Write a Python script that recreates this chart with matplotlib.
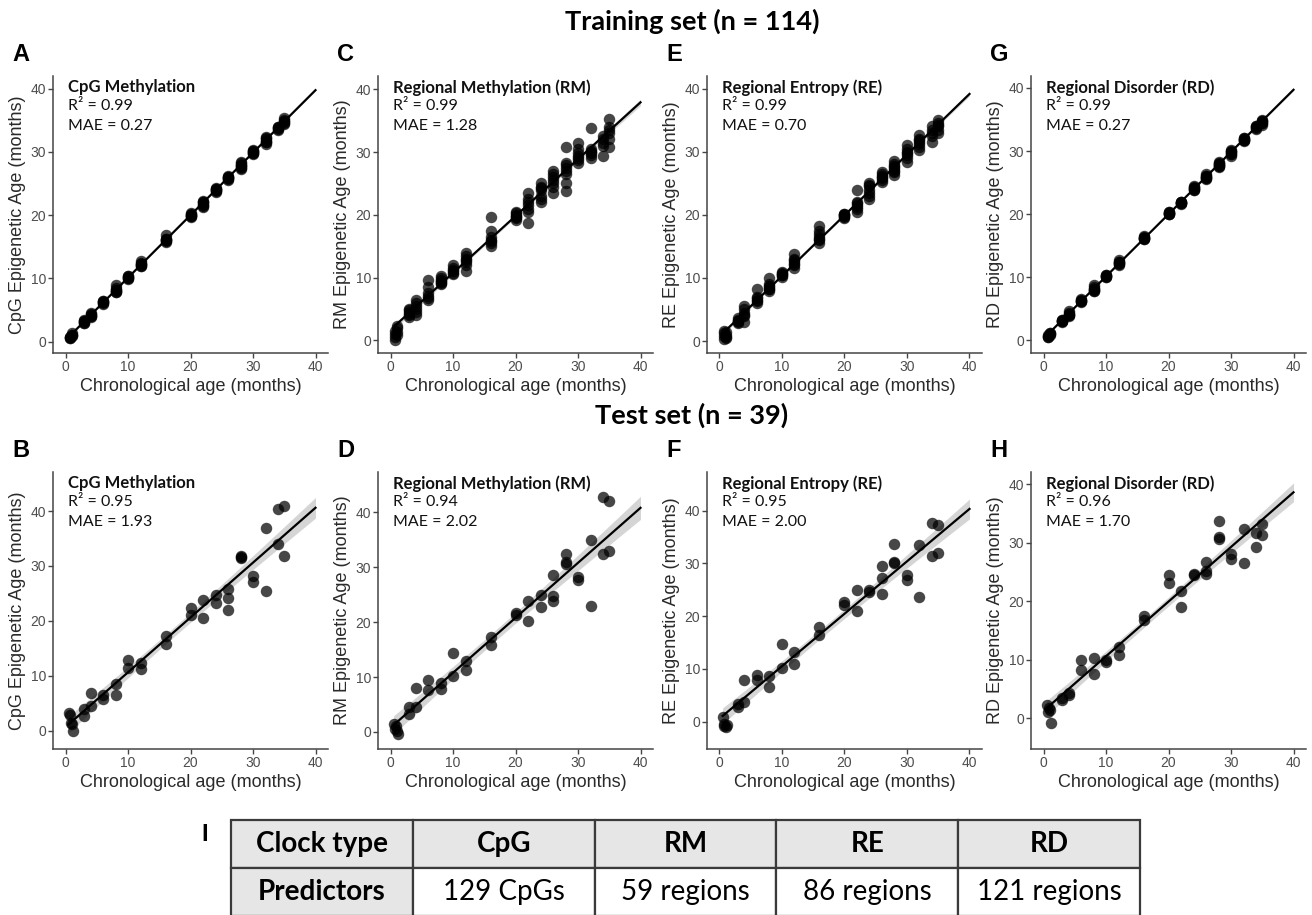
import numpy as np
import matplotlib
matplotlib.use("Agg")
import matplotlib.pyplot as plt

# ------------------------------------------------------------------ data
# Training set (n = 114): chronological age (months)
train_age = [
    0.7, 0.7, 0.7, 0.7, 1, 1, 1, 1,
    3, 3, 3, 3, 3, 3, 4, 4, 4, 4, 4, 4,
    6, 6, 6, 6, 6, 6, 8, 8, 8, 8, 8, 8, 8,
    10, 10, 10, 10, 10, 10, 12, 12, 12, 12, 12, 12, 12,
    16, 16, 16, 16, 16, 16, 16, 20, 20, 20, 20, 20, 20, 20,
    22, 22, 22, 22, 22, 22, 22, 24, 24, 24, 24, 24, 24, 24,
    26, 26, 26, 26, 26, 26, 26, 28, 28, 28, 28, 28, 28, 28, 28,
    30, 30, 30, 30, 30, 30, 30, 32, 32, 32, 32, 32, 32, 32,
    34, 34, 34, 34, 34, 35, 35, 35, 35, 35, 35]

train_cpg = [
    0.5, 0.7, 0.8, 0.6, 0.9, 1.1, 1.3, 1.0,
    3.0, 3.2, 3.4, 3.1, 3.3, 3.0, 4.0, 4.2, 4.5, 3.9, 4.3, 4.1,
    6.1, 6.3, 6.5, 6.2, 6.4, 6.0, 7.8, 8.1, 8.4, 8.9, 8.0, 8.2, 7.9,
    10.0, 10.2, 10.4, 10.1, 10.3, 9.9, 12.0, 12.2, 12.5, 12.7, 12.1, 12.3, 11.9,
    15.8, 16.0, 16.3, 16.8, 16.1, 15.9, 16.2, 19.8, 20.0, 20.2, 19.9, 20.1, 20.3, 19.7,
    21.3, 21.6, 22.0, 22.3, 21.8, 21.5, 22.1, 23.8, 24.0, 24.3, 23.9, 24.1, 24.2, 23.7,
    25.6, 25.9, 26.2, 26.0, 25.8, 26.1, 25.7, 27.3, 27.6, 28.0, 28.4, 27.8, 28.2, 27.5, 27.9,
    29.7, 30.0, 30.2, 29.9, 30.1, 29.8, 30.3, 31.3, 31.6, 32.0, 32.4, 31.8, 32.2, 31.5,
    33.4, 33.7, 34.0, 33.6, 33.9, 34.4, 34.7, 35.0, 35.3, 34.6, 34.9]

train_rm = [
    0.1, 0.5, 1.0, 1.5, 2.0, 2.3, 0.8, 1.3,
    4.0, 4.5, 5.0, 4.2, 3.8, 4.8, 4.0, 5.0, 6.0, 6.5, 4.5, 5.5,
    6.5, 7.0, 7.5, 8.5, 9.7, 6.8, 9.0, 9.5, 10.0, 9.3, 9.7, 10.2, 9.1,
    10.5, 11.0, 11.5, 12.0, 11.2, 10.8, 11.0, 12.0, 12.5, 13.0, 13.5, 14.0, 12.8,
    15.0, 15.5, 16.0, 16.5, 17.5, 19.7, 15.8, 19.2, 19.5, 20.0, 20.3, 19.8, 20.5, 19.6,
    18.7, 20.5, 21.0, 22.0, 22.5, 23.5, 21.5, 22.0, 23.0, 24.0, 24.5, 25.0, 22.5, 24.2,
    23.5, 24.5, 25.0, 25.5, 26.0, 27.0, 26.5, 23.8, 25.0, 26.5, 27.0, 28.0, 28.3, 30.8, 27.5,
    28.2, 28.8, 29.3, 29.8, 30.5, 31.5, 29.0, 29.0, 29.5, 30.0, 30.5, 33.8, 29.8, 30.2,
    29.3, 31.0, 31.5, 32.0, 32.5, 30.8, 32.0, 33.0, 34.0, 35.3, 33.5]

train_re = [
    0.3, 0.8, 1.2, 1.6, 0.5, 1.0, 1.4, 0.7,
    2.8, 3.2, 3.6, 3.0, 3.4, 3.1, 3.0, 4.0, 4.5, 5.0, 5.5, 4.2,
    6.0, 6.5, 7.0, 8.3, 6.3, 6.8, 8.0, 8.5, 9.0, 10.0, 8.3, 8.7, 8.2,
    10.2, 10.5, 10.8, 11.0, 10.4, 10.6, 11.5, 12.0, 12.5, 13.0, 13.8, 12.2, 12.8,
    15.5, 16.0, 16.5, 17.0, 17.5, 18.3, 16.2, 19.5, 19.8, 20.0, 20.2, 19.7, 20.1, 19.9,
    20.5, 21.0, 21.5, 22.0, 24.0, 21.2, 21.8, 22.5, 23.0, 24.0, 24.5, 25.0, 23.5, 24.8,
    25.2, 25.5, 26.0, 26.5, 26.8, 25.8, 26.2, 26.3, 27.0, 27.5, 28.0, 28.5, 27.2, 27.8, 26.8,
    28.3, 29.0, 29.5, 30.0, 30.5, 31.0, 29.8, 30.2, 30.8, 31.5, 32.0, 32.7, 31.2, 31.8,
    31.5, 32.5, 33.0, 33.5, 34.0, 33.0, 33.5, 34.0, 34.5, 35.0, 34.2]

train_rd = [
    0.5, 0.6, 0.8, 0.7, 0.9, 1.2, 1.0, 1.1,
    3.0, 3.1, 3.3, 2.9, 3.2, 3.0, 3.9, 4.2, 4.6, 4.0, 4.3, 4.1,
    6.2, 6.3, 6.5, 6.1, 6.4, 6.3, 7.8, 8.1, 8.4, 8.8, 8.0, 8.2, 7.9,
    10.0, 10.2, 10.4, 10.1, 10.3, 10.2, 12.0, 12.2, 12.5, 12.8, 12.1, 12.3, 12.4,
    16.0, 16.2, 16.4, 16.6, 16.1, 16.3, 16.2, 20.0, 20.2, 20.3, 20.1, 20.2, 20.4, 20.1,
    21.6, 21.8, 22.0, 21.9, 21.7, 21.8, 22.0, 23.8, 24.0, 24.4, 23.9, 24.1, 24.2, 24.3,
    25.5, 25.8, 26.3, 26.0, 25.7, 26.1, 25.9, 27.5, 27.8, 28.2, 28.0, 27.7, 28.1, 27.6, 27.9,
    29.3, 29.6, 30.1, 29.8, 29.9, 29.5, 30.0, 31.6, 31.8, 32.0, 31.7, 31.9, 31.8, 32.1,
    33.5, 33.8, 34.0, 33.6, 33.9, 34.2, 34.5, 35.0, 34.7, 34.4, 34.8]

# Test set (n = 39): chronological age (months)
test_age = [
    0.5, 0.7, 0.8, 1.0, 1.2,
    3, 3, 4, 4, 6, 6, 8, 8, 10, 10, 12, 12,
    16, 16, 20, 20, 22, 22, 24, 24,
    26, 26, 26, 28, 28, 28, 30, 30, 32, 32, 34, 34, 35, 35]

test_cpg = [
    3.3, 2.8, 1.5, 1.2, 0.0,
    2.7, 3.9, 6.8, 4.6, 5.8, 6.5, 8.6, 6.6, 12.9, 11.5, 12.4, 11.2,
    17.3, 15.8, 22.4, 21.0, 23.9, 20.5, 24.8, 23.2,
    25.9, 24.1, 22.0, 31.8, 31.5, 31.7, 28.2, 27.0, 37.0, 25.5, 40.3, 34.0, 41.0, 31.9]

test_rm = [
    1.5, 0.6, 1.0, 0.2, -0.3,
    3.3, 4.5, 8.0, 4.5, 9.4, 7.6, 8.9, 7.9, 14.3, 10.1, 12.9, 11.2,
    17.2, 15.8, 21.7, 21.2, 23.8, 20.2, 25.0, 22.7,
    28.5, 24.8, 23.9, 32.4, 30.6, 31.0, 28.2, 27.6, 35.0, 23.0, 42.8, 32.3, 42.0, 32.9]

test_re = [
    0.9, -0.9, -0.5, -1.0, -0.7,
    2.8, 3.3, 7.9, 3.8, 8.8, 7.8, 8.7, 6.6, 14.7, 10.1, 13.1, 10.9,
    18.0, 16.4, 22.7, 22.1, 25.0, 21.0, 24.6, 24.9,
    29.4, 27.3, 24.2, 33.7, 30.0, 30.2, 27.8, 26.8, 33.5, 23.6, 37.6, 31.4, 37.3, 31.9]

test_rd = [
    2.3, 1.1, 1.8, 1.4, -0.9,
    3.1, 3.5, 4.3, 3.9, 10.0, 8.2, 10.2, 7.5, 9.6, 9.9, 12.2, 10.8,
    17.4, 16.7, 24.4, 23.1, 21.8, 19.0, 24.7, 24.4,
    26.7, 24.7, 25.2, 33.7, 30.7, 30.9, 28.1, 27.2, 32.4, 26.5, 29.2, 31.6, 33.2, 31.3]

panel_titles = ["CpG Methylation", "Regional Methylation (RM)",
                "Regional Entropy (RE)", "Regional Disorder (RD)"]
y_labels = ["CpG Epigenetic Age (months)", "RM Epigenetic Age (months)",
            "RE Epigenetic Age (months)", "RD Epigenetic Age (months)"]
train_r2 = ["0.99", "0.99", "0.99", "0.99"]
train_mae = ["0.27", "1.28", "0.70", "0.27"]
test_r2 = ["0.95", "0.94", "0.95", "0.96"]
test_mae = ["1.93", "2.02", "2.00", "1.70"]
train_letters = ["A", "C", "E", "G"]
test_letters = ["B", "D", "F", "H"]

table_header = ["Clock type", "CpG", "RM", "RE", "RD"]
table_row = ["Predictors", "129 CpGs", "59 regions", "86 regions", "121 regions"]

# ------------------------------------------------------------------ layout
W, H = 1312, 915
fig = plt.figure(figsize=(W / 100, H / 100), dpi=100)
fig.patch.set_facecolor("white")

SANS = ["Liberation Sans", "DejaVu Sans"]
HUM = ["Lato", "DejaVu Sans"]


def fx(x):
    return x / W


def fy(y):
    return 1 - y / H


col_left = [53, 378, 707, 1031]
AX_W, AX_H = 275, 277
row_top = [76, 472]
train_ylim = [(-1.8, 42.0), (-2.0, 42.1), (-1.9, 42.0), (-2.0, 41.9)]
test_ylim = [(-3.3, 47.1), (-3.1, 47.3), (-5.2, 47.3), (-5.3, 42.1)]

AXIS_COL = "#454545"
TICK_COL = "#4d4d4d"


def fit_band(x, y, ci_t):
    x = np.asarray(x, float)
    y = np.asarray(y, float)
    b, a = np.polyfit(x, y, 1)
    xs = np.linspace(x.min(), 40, 200)
    ys = a + b * xs
    n = len(x)
    resid = y - (a + b * x)
    s = np.sqrt(np.sum(resid ** 2) / (n - 2))
    sxx = np.sum((x - x.mean()) ** 2)
    se = s * np.sqrt(1.0 / n + (xs - x.mean()) ** 2 / sxx)
    return xs, ys, ci_t * se


def draw_panel(left, top, xs, ys, ylim, ylab, title, r2, mae, letter, ci_t):
    ax = fig.add_axes([fx(left), fy(top + AX_H), AX_W / W, AX_H / H])
    lx, ly, band = fit_band(xs, ys, ci_t)
    ax.fill_between(lx, ly - band, ly + band, color="#c8c8c8", alpha=0.75,
                    lw=0, zorder=1)
    ax.scatter(xs, ys, s=68, color="black", alpha=0.72, lw=0, zorder=2)
    ax.plot(lx, ly, color="black", lw=1.6, zorder=3)
    ax.set_xlim(-2.0, 42.0)
    ax.set_ylim(*ylim)
    ax.set_xticks([0, 10, 20, 30, 40])
    ax.set_yticks([0, 10, 20, 30, 40])
    for sp in ["top", "right"]:
        ax.spines[sp].set_visible(False)
    for sp in ["left", "bottom"]:
        ax.spines[sp].set_color(AXIS_COL)
        ax.spines[sp].set_linewidth(1.1)
    ax.tick_params(direction="out", length=3.5, width=1.0, color=AXIS_COL,
                   labelcolor=TICK_COL, labelsize=10, pad=1.5)
    for lab in ax.get_xticklabels() + ax.get_yticklabels():
        lab.set_family(SANS)
    ax.set_xlabel("Chronological age (months)", fontsize=13, family=SANS,
                  color="#2a2a2a", labelpad=3)
    ax.set_ylabel(ylab, fontsize=13, family=SANS, color="#2a2a2a", labelpad=3)
    # annotation block
    tx = left + 15
    ty = top + 3
    fig.text(fx(tx), fy(ty), title, fontsize=12, weight="bold", family=HUM,
             va="top", ha="left", color="#111111")
    fig.text(fx(tx), fy(ty + 20), "R\u00b2 = " + r2, fontsize=11.5,
             family=HUM, va="top", ha="left", color="#111111")
    fig.text(fx(tx), fy(ty + 40), "MAE = " + mae, fontsize=11.5,
             family=HUM, va="top", ha="left", color="#111111")
    # panel letter
    fig.text(fx(left - 41), fy(top - 33), letter, fontsize=17, weight="bold",
             family=SANS, va="top", ha="left", color="black")
    return ax


train_preds = [train_cpg, train_rm, train_re, train_rd]
test_preds = [test_cpg, test_rm, test_re, test_rd]

for i in range(4):
    draw_panel(col_left[i], row_top[0], train_age, train_preds[i], train_ylim[i],
               y_labels[i], panel_titles[i], train_r2[i], train_mae[i],
               train_letters[i], 1.98)
    draw_panel(col_left[i], row_top[1], test_age, test_preds[i], test_ylim[i],
               y_labels[i], panel_titles[i], test_r2[i], test_mae[i],
               test_letters[i], 2.03)

# section titles
fig.text(fx(692), fy(21), "Training set (n = 114)", fontsize=19.5,
         weight="bold", family=HUM, ha="center", va="center")
fig.text(fx(692), fy(415), "Test set (n = 39)", fontsize=19.5,
         weight="bold", family=HUM, ha="center", va="center")

# ------------------------------------------------------------------ table
fig.text(fx(201), fy(823), "I", fontsize=17, weight="bold", family=SANS,
         va="top", ha="left")
tab_ax = fig.add_axes([fx(231), fy(916), (1140 - 231) / W, (916 - 820) / H])
tab_ax.axis("off")
tbl = tab_ax.table(cellText=[table_header, table_row], cellLoc="center",
                   bbox=[0, 0, 1, 1])
tbl.auto_set_font_size(False)
for (r, c), cell in tbl.get_celld().items():
    cell.set_edgecolor("#3a3a3a")
    cell.set_linewidth(1.6)
    grey = (r == 0) or (c == 0)
    cell.set_facecolor("#e6e6e6" if grey else "white")
    txt = cell.get_text()
    txt.set_fontsize(20)
    txt.set_family(HUM)
    txt.set_color("black")
    if grey:
        txt.set_weight("bold")

fig.savefig("out.png", dpi=100, facecolor="white")
